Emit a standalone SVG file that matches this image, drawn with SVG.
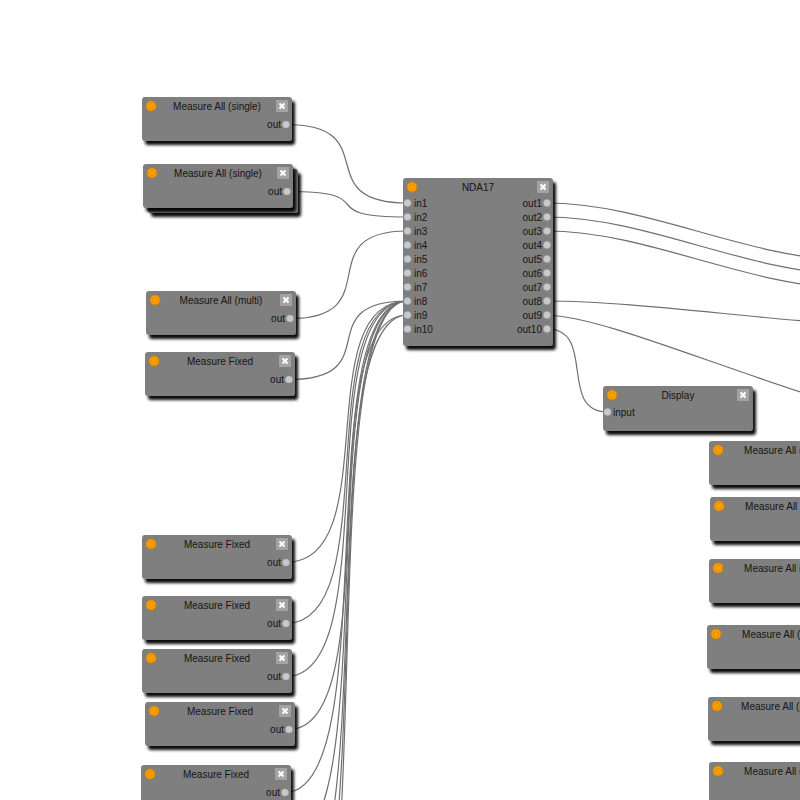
<svg xmlns="http://www.w3.org/2000/svg" width="800" height="800" viewBox="0 0 800 800">
  <style>
    .body { fill: #7f7f7f; filter: url(#shadow); }
    .back { fill: #7a7a7a; filter: url(#shadow); }
    .title { font-family: "Liberation Sans", Arial, sans-serif; font-size: 10px; fill: #151515; text-anchor: middle; }
    .lbl { font-family: "Liberation Sans", Arial, sans-serif; font-size: 10px; fill: #151515; }
    .end { text-anchor: end; }
    .wire { fill: none; stroke: #6f6f6f; stroke-width: 1.2; }
  </style>
  <defs>
    <filter id="shadow" x="-10%" y="-10%" width="130%" height="140%">
      <feDropShadow dx="3" dy="4" stdDeviation="1.6" flood-color="#000" flood-opacity="0.95"/>
    </filter>
    <g id="led">
      <circle r="5" fill="#f7a000" stroke="#d98200" stroke-width="1"/>
      <circle r="2.6" fill="none" stroke="#e48c00" stroke-width="0.8"/>
    </g>
    <g id="closeBtn">
      <rect width="12" height="12" fill="#a3a3a3"/>
      <path d="M3.5,3.5 L8.5,8.5 M8.5,3.5 L3.5,8.5" stroke="#fff" stroke-width="2"/>
    </g>
    <circle id="port" r="3.5" fill="#c9c9c9" stroke="#b0b0b0" stroke-width="0.6"/>
  </defs>

  <rect width="800" height="800" fill="#fff"/>

  <!-- wires: bezier curves, tangents 100px out of each terminal -->
  <g id="connectors">
    <path class="wire" d="M286,124.5 C386,124.5 307.5,203 407.5,203"/>
    <path class="wire" d="M287,191.5 C387,191.5 307.5,217 407.5,217"/>
    <path class="wire" d="M290,318.5 C390,318.5 307.5,231 407.5,231"/>
    <path class="wire" d="M289,379.5 C389,379.5 307.5,301 407.5,301"/>
    <path class="wire" d="M286,562.5 C386,562.5 307.5,301 407.5,301"/>
    <path class="wire" d="M286,623.5 C386,623.5 307.5,301 407.5,301"/>
    <path class="wire" d="M286,676.5 C386,676.5 307.5,301 407.5,301"/>
    <path class="wire" d="M289,729.5 C389,729.5 307.5,315 407.5,315"/>
    <path class="wire" d="M285,792.5 C385,792.5 307.5,301 407.5,301"/>
    <path class="wire" d="M286,845 C386,845 307.5,301 407.5,301"/>
    <path class="wire" d="M286,905 C386,905 307.5,315 407.5,315"/>
    <path class="wire" d="M286,965 C386,965 307.5,301 407.5,301"/>
    <path class="wire" d="M286,1025 C386,1025 307.5,301 407.5,301"/>
    <path class="wire" d="M547,203 C647,203 750,260 850,260"/>
    <path class="wire" d="M547,217 C647,217 750,274 850,274"/>
    <path class="wire" d="M547,231 C647,231 750,288 850,288"/>
    <path class="wire" d="M547,301 C647,301 800,326 900,326"/>
    <path class="wire" d="M547,315 C600,317 700,360 810,395"/>
    <path class="wire" d="M547,329 C597,329 557.5,412 607.5,412"/>
  </g>

  <!-- left column -->
  <g id="measure-all-1" transform="translate(142,97)">
    <rect class="body" width="150" height="44" rx="3"/>
    <use href="#led" x="9" y="9"/>
    <text class="title" x="75" y="13">Measure All (single)</text>
    <use href="#closeBtn" x="134" y="3"/>
    <text class="lbl end" x="139" y="31">out</text>
    <use href="#port" x="144" y="27.5"/>
  </g>
  <g id="measure-all-2" transform="translate(143,164)">
    <rect class="back" x="5" y="5" width="150" height="44" rx="3"/>
    <rect class="body" width="150" height="44" rx="3"/>
    <use href="#led" x="9" y="9"/>
    <text class="title" x="75" y="13">Measure All (single)</text>
    <use href="#closeBtn" x="134" y="3"/>
    <text class="lbl end" x="139" y="31">out</text>
    <use href="#port" x="144" y="27.5"/>
  </g>
  <g id="measure-all-multi" transform="translate(146,291)">
    <rect class="body" width="150" height="44" rx="3"/>
    <use href="#led" x="9" y="9"/>
    <text class="title" x="75" y="13">Measure All (multi)</text>
    <use href="#closeBtn" x="134" y="3"/>
    <text class="lbl end" x="139" y="31">out</text>
    <use href="#port" x="144" y="27.5"/>
  </g>
  <g id="measure-fixed-1" transform="translate(145,352)">
    <rect class="body" width="150" height="44" rx="3"/>
    <use href="#led" x="9" y="9"/>
    <text class="title" x="75" y="13">Measure Fixed</text>
    <use href="#closeBtn" x="134" y="3"/>
    <text class="lbl end" x="139" y="31">out</text>
    <use href="#port" x="144" y="27.5"/>
  </g>
  <g id="measure-fixed-2" transform="translate(142,535)">
    <rect class="body" width="150" height="44" rx="3"/>
    <use href="#led" x="9" y="9"/>
    <text class="title" x="75" y="13">Measure Fixed</text>
    <use href="#closeBtn" x="134" y="3"/>
    <text class="lbl end" x="139" y="31">out</text>
    <use href="#port" x="144" y="27.5"/>
  </g>
  <g id="measure-fixed-3" transform="translate(142,596)">
    <rect class="body" width="150" height="44" rx="3"/>
    <use href="#led" x="9" y="9"/>
    <text class="title" x="75" y="13">Measure Fixed</text>
    <use href="#closeBtn" x="134" y="3"/>
    <text class="lbl end" x="139" y="31">out</text>
    <use href="#port" x="144" y="27.5"/>
  </g>
  <g id="measure-fixed-4" transform="translate(142,649)">
    <rect class="body" width="150" height="44" rx="3"/>
    <use href="#led" x="9" y="9"/>
    <text class="title" x="75" y="13">Measure Fixed</text>
    <use href="#closeBtn" x="134" y="3"/>
    <text class="lbl end" x="139" y="31">out</text>
    <use href="#port" x="144" y="27.5"/>
  </g>
  <g id="measure-fixed-5" transform="translate(145,702)">
    <rect class="body" width="150" height="44" rx="3"/>
    <use href="#led" x="9" y="9"/>
    <text class="title" x="75" y="13">Measure Fixed</text>
    <use href="#closeBtn" x="134" y="3"/>
    <text class="lbl end" x="139" y="31">out</text>
    <use href="#port" x="144" y="27.5"/>
  </g>
  <g id="measure-fixed-6" transform="translate(141,765)">
    <rect class="body" width="150" height="44" rx="3"/>
    <use href="#led" x="9" y="9"/>
    <text class="title" x="75" y="13">Measure Fixed</text>
    <use href="#closeBtn" x="134" y="3"/>
    <text class="lbl end" x="139" y="31">out</text>
    <use href="#port" x="144" y="27.5"/>
  </g>

  <!-- NDA17: ten inputs, ten outputs -->
  <g id="nda17" transform="translate(403,178)">
    <rect class="body" width="150" height="168" rx="3"/>
    <use href="#led" x="9" y="9"/>
    <text class="title" x="75" y="13">NDA17</text>
    <use href="#closeBtn" x="134" y="3"/>
    <g>
      <use href="#port" x="4.5" y="25"/><text class="lbl" x="11" y="29">in1</text>
      <use href="#port" x="4.5" y="39"/><text class="lbl" x="11" y="43">in2</text>
      <use href="#port" x="4.5" y="53"/><text class="lbl" x="11" y="57">in3</text>
      <use href="#port" x="4.5" y="67"/><text class="lbl" x="11" y="71">in4</text>
      <use href="#port" x="4.5" y="81"/><text class="lbl" x="11" y="85">in5</text>
      <use href="#port" x="4.5" y="95"/><text class="lbl" x="11" y="99">in6</text>
      <use href="#port" x="4.5" y="109"/><text class="lbl" x="11" y="113">in7</text>
      <use href="#port" x="4.5" y="123"/><text class="lbl" x="11" y="127">in8</text>
      <use href="#port" x="4.5" y="137"/><text class="lbl" x="11" y="141">in9</text>
      <use href="#port" x="4.5" y="151"/><text class="lbl" x="11" y="155">in10</text>
    </g>
    <g>
      <use href="#port" x="144" y="25"/><text class="lbl end" x="139" y="29">out1</text>
      <use href="#port" x="144" y="39"/><text class="lbl end" x="139" y="43">out2</text>
      <use href="#port" x="144" y="53"/><text class="lbl end" x="139" y="57">out3</text>
      <use href="#port" x="144" y="67"/><text class="lbl end" x="139" y="71">out4</text>
      <use href="#port" x="144" y="81"/><text class="lbl end" x="139" y="85">out5</text>
      <use href="#port" x="144" y="95"/><text class="lbl end" x="139" y="99">out6</text>
      <use href="#port" x="144" y="109"/><text class="lbl end" x="139" y="113">out7</text>
      <use href="#port" x="144" y="123"/><text class="lbl end" x="139" y="127">out8</text>
      <use href="#port" x="144" y="137"/><text class="lbl end" x="139" y="141">out9</text>
      <use href="#port" x="144" y="151"/><text class="lbl end" x="139" y="155">out10</text>
    </g>
  </g>

  <g id="display" transform="translate(603,386)">
    <rect class="body" width="150" height="45" rx="3"/>
    <use href="#led" x="9" y="9"/>
    <text class="title" x="75" y="13">Display</text>
    <use href="#closeBtn" x="134" y="3"/>
    <use href="#port" x="4.5" y="26"/>
    <text class="lbl" x="10" y="30">input</text>
  </g>

  <!-- right column (runs past the right edge of the canvas) -->
  <g id="measure-all-r1" transform="translate(709,441)">
    <rect class="body" width="150" height="44" rx="3"/>
    <use href="#led" x="9" y="9"/>
    <text class="title" x="79" y="13">Measure All (single)</text>
  </g>
  <g id="measure-all-r2" transform="translate(710,497)">
    <rect class="body" width="150" height="44" rx="3"/>
    <use href="#led" x="9" y="9"/>
    <text class="title" x="79" y="13">Measure All (single)</text>
  </g>
  <g id="measure-all-r3" transform="translate(709,559)">
    <rect class="body" width="150" height="44" rx="3"/>
    <use href="#led" x="9" y="9"/>
    <text class="title" x="79" y="13">Measure All (single)</text>
  </g>
  <g id="measure-all-r4" transform="translate(707,625)">
    <rect class="body" width="150" height="44" rx="3"/>
    <use href="#led" x="9" y="9"/>
    <text class="title" x="79" y="13">Measure All (single)</text>
  </g>
  <g id="measure-all-r5" transform="translate(708,697)">
    <rect class="body" width="150" height="44" rx="3"/>
    <use href="#led" x="9" y="9"/>
    <text class="title" x="77" y="13">Measure All (single)</text>
  </g>
  <g id="measure-all-r6" transform="translate(709,762)">
    <rect class="body" width="150" height="44" rx="3"/>
    <use href="#led" x="9" y="9"/>
    <text class="title" x="79" y="13">Measure All (single)</text>
  </g>
</svg>
